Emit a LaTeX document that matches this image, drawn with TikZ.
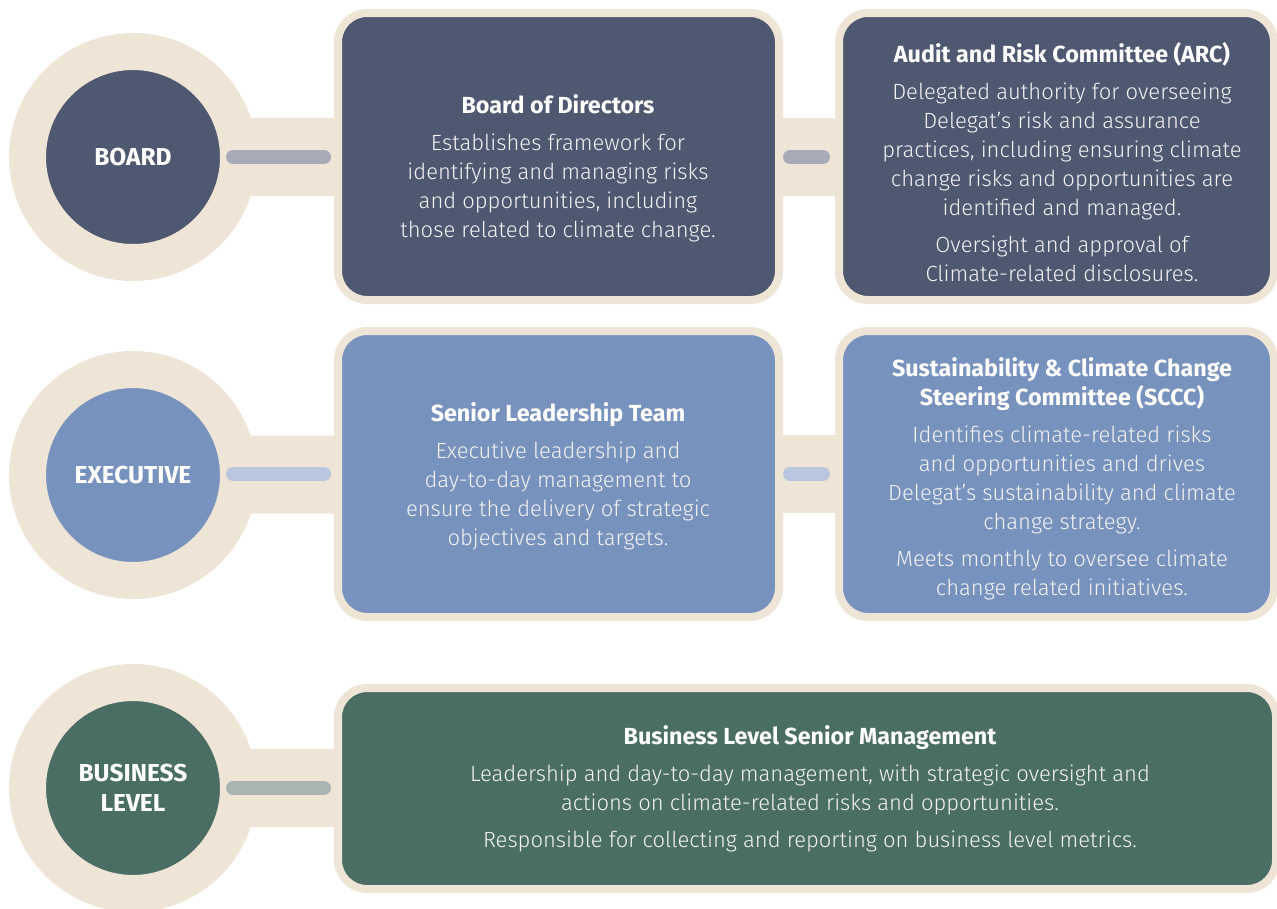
\documentclass[tikz,border=0pt]{standalone}
\usepackage{fontspec}
\setmainfont{Fira Sans}
\IfFontExistsTF{Fira Sans Light}{\newfontfamily\bodyfont{Fira Sans Light}}{\newfontfamily\bodyfont{Fira Sans}}
\usepackage{tikz}
\usetikzlibrary{backgrounds}
\definecolor{sand}{HTML}{EFE5D6}
\definecolor{navy}{HTML}{4E5870}
\definecolor{slate}{HTML}{7892BE}
\definecolor{pine}{HTML}{4A6D64}
\definecolor{navypill}{HTML}{A8AAB8}
\definecolor{slatepill}{HTML}{BAC6DF}
\definecolor{pinepill}{HTML}{A8B6B1}

\begin{document}
\begin{tikzpicture}[x=1pt,y=-1pt]
\tikzset{level/.style = {shape=circle,draw=sand,line width=37pt,minimum size=211pt,inner sep=0pt,outer sep=0pt,text=white,align=center,font=\fontsize{24.5}{30}\selectfont\bfseries}}
\tikzset{panel/.style = {shape=rectangle,draw=sand,line width=8pt,rounded corners=29pt,inner sep=0pt,outer sep=0pt,minimum height=287pt}}
\tikzset{blurb/.style = {align=center,text=white!95!black,inner sep=0pt,font=\bodyfont\fontsize{22}{29}\selectfont}}
\tikzset{link/.style = {draw=sand,line width=78pt}}
\tikzset{pill/.style = {line width=14pt,line cap=round}}
\newcommand{\head}[1]{{\normalfont\fontsize{23.3}{29}\selectfont\bfseries\color{white}#1}}
\useasboundingbox (0,0) rectangle (1277,908);
% levels
\node[level, fill=navy]  (board) at (133,157) {BOARD};
\node[level, fill=slate] (exec)  at (133,475) {EXECUTIVE};
\node[level, fill=pine]  (biz)   at (133,788) {BUSINESS\\LEVEL};
% panels
\node[panel, fill=navy, minimum width=441pt] (bod) at (558.5,156.5) {};
\node[panel, fill=navy, minimum width=435pt] (arc) at (1056.5,156.5) {};
\node[panel, fill=slate, minimum width=441pt, minimum height=286pt] (slt) at (558.5,474) {};
\node[panel, fill=slate, minimum width=435pt, minimum height=286pt] (sccc) at (1056.5,474) {};
\node[panel, fill=pine, minimum width=938pt, minimum height=201pt] (blsm) at (807,788.5) {};
% bars behind
\begin{scope}[on background layer]
\draw[link] (board.center) -- (bod.center);
\draw[link] (bod.center) -- (arc.center);
\draw[link] (exec.center) -- (slt.center);
\draw[link] (slt.center) -- (sccc.center);
\draw[link] (biz.center) -- (blsm.center);
\end{scope}
% pills
\draw[pill, navypill, shorten <=-5.5pt, shorten >=14pt] (board.east) -- (board.east -| bod.west);
\draw[pill, navypill, shorten <=11pt, shorten >=16pt] (board.east -| bod.east) -- (board.east -| arc.west);
\draw[pill, slatepill, shorten <=-5.5pt, shorten >=14pt] ([yshift=1pt]exec.east) -- ([yshift=1pt]exec.east -| slt.west);
\draw[pill, slatepill, shorten <=11pt, shorten >=16pt] ([yshift=1pt]exec.east -| slt.east) -- ([yshift=1pt]exec.east -| sccc.west);
\draw[pill, pinepill, shorten <=-5.5pt, shorten >=14pt] (biz.east) -- (biz.east -| blsm.west);
% texts
\node[blurb] (bodtxt) at (558,168) {\head{Board of Directors}\\[8pt]
  Establishes framework for\\ identifying and managing risks\\
  and opportunities, including\\ those related to climate change.};
\node[blurb] (arctxt) at (1062,162) {\head{Audit and Risk Committee (ARC)}\\[8pt]
  Delegated authority for overseeing\\ Delegat’s risk and assurance\\
  practices, including ensuring climate\\ change risks and opportunities are\\
  identified and managed.\\[8pt]
  Oversight and approval of\\ Climate-related disclosures.};
\node[blurb] (slttxt) at (558,476) {\head{Senior Leadership Team}\\[8pt]
  Executive leadership and\\ day-to-day management to\\
  ensure the delivery of strategic\\ objectives and targets.};
\node[blurb] (sccctxt) at (1062,479) {\head{Sustainability \& Climate Change}\\
  \head{Steering Committee (SCCC)}\\[8pt]
  Identifies climate-related risks\\ and opportunities and drives\\
  Delegat’s sustainability and climate\\ change strategy.\\[8pt]
  Meets monthly to oversee climate\\ change related initiatives.};
\node[blurb] (blsmtxt) at (810,789) {\head{Business Level Senior Management}\\[8pt]
  Leadership and day-to-day management, with strategic oversight and\\
  actions on climate-related risks and opportunities.\\[8pt]
  Responsible for collecting and reporting on business level metrics.};
\end{tikzpicture}
\end{document}
